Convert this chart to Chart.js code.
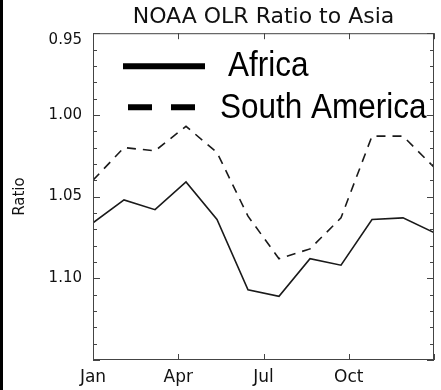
<!DOCTYPE html>
<html>
<head>
<meta charset="utf-8">
<script src="https://cdn.jsdelivr.net/npm/chart.js@4/dist/chart.umd.min.js"></script>
<style>
  html, body { margin: 0; padding: 0; background: #fff; }
  #wrap { width: 441px; height: 390px; position: relative; }
</style>
</head>
<body>
<div id="wrap"><canvas id="chart" width="441" height="390"></canvas></div>
<script>
// Monthly OLR ratio relative to Asia
const monthIndex = [0, 1, 2, 3, 4, 5, 6, 7, 8, 9, 10, 11];
const africa = [1.066, 1.052, 1.058, 1.041, 1.064, 1.107, 1.111, 1.088, 1.092, 1.064, 1.063, 1.072];
const southAmerica = [1.040, 1.020, 1.022, 1.007, 1.023, 1.062, 1.088, 1.082, 1.063, 1.013, 1.013, 1.032];
const monthLabels = ['Jan', 'Apr', 'Jul', 'Oct', ''];
const ratioLabels = ['0.95', '1.00', '1.05', '1.10'];

const toPoints = vals => vals.map((v, i) => ({ x: monthIndex[i], y: v }));

const TICK_FONT = 'DejaVu Sans';

// Frame, inward tick marks and the page's left rule
const framePlugin = {
  id: 'frame',
  beforeDraw(chart) {
    const ctx = chart.ctx;
    ctx.save();
    ctx.fillStyle = '#fff';
    ctx.fillRect(0, 0, chart.width, chart.height);
    ctx.fillStyle = '#000';
    ctx.fillRect(0, 0, 3, chart.height);
    ctx.restore();
  },
  afterDatasetsDraw(chart) {
    const { ctx, chartArea: a, scales: { x, y } } = chart;
    ctx.save();
    ctx.strokeStyle = '#444';
    ctx.lineWidth = 1;
    ctx.strokeRect(a.left + 0.5, a.top + 0.5, a.right - a.left - 1, a.bottom - a.top - 1);
    ctx.beginPath();
    y.ticks.forEach(t => {
      const py = Math.round(y.getPixelForValue(t.value)) + 0.5;
      const major = Math.abs(Math.round(t.value * 20) - t.value * 20) < 1e-6;
      const len = major ? 7 : 4;
      ctx.moveTo(a.left, py); ctx.lineTo(a.left + len, py);
      ctx.moveTo(a.right, py); ctx.lineTo(a.right - len, py);
    });
    x.ticks.forEach(t => {
      const px = Math.round(x.getPixelForValue(t.value)) + 0.5;
      ctx.moveTo(px, a.bottom); ctx.lineTo(px, a.bottom - 6);
      ctx.moveTo(px, a.top); ctx.lineTo(px, a.top + 6);
    });
    ctx.stroke();
    ctx.restore();
  }
};

// Legend drawn inside the plot with heavy sample lines
const legendPlugin = {
  id: 'insideLegend',
  afterDatasetsDraw(chart) {
    const { ctx, chartArea: a } = chart;
    const ds = chart.data.datasets;
    ctx.save();
    ctx.strokeStyle = '#000';
    ctx.lineWidth = 6;
    ctx.lineCap = 'butt';
    // solid sample
    ctx.beginPath();
    ctx.moveTo(a.left + 30, a.top + 33);
    ctx.lineTo(a.left + 112, a.top + 33);
    ctx.stroke();
    // dashed sample
    ctx.setLineDash([24, 19]);
    ctx.beginPath();
    ctx.moveTo(a.left + 35, a.top + 74);
    ctx.lineTo(a.left + 102, a.top + 74);
    ctx.stroke();
    ctx.setLineDash([]);
    ctx.fillStyle = '#000';
    ctx.font = '31.5px "Liberation Sans"';
    ctx.textBaseline = 'alphabetic';
    ctx.textAlign = 'left';
    ctx.save();
    ctx.translate(a.left + 135, a.top + 43);
    ctx.scale(1, 1.1);
    ctx.fillText(ds[0].label, 0, 0);
    ctx.restore();
    ctx.save();
    ctx.translate(a.left + 127, a.top + 85);
    ctx.scale(1, 1.1);
    ctx.fillText(ds[1].label, 0, 0);
    ctx.restore();
    ctx.restore();
  }
};

new Chart(document.getElementById('chart'), {
  type: 'line',
  data: {
    datasets: [
      {
        label: 'Africa',
        data: toPoints(africa),
        borderColor: '#1a1a1a',
        borderWidth: 1.6,
        pointRadius: 0,
        tension: 0,
        fill: false
      },
      {
        label: 'South America',
        data: toPoints(southAmerica),
        borderColor: '#1a1a1a',
        borderWidth: 1.6,
        borderDash: [9, 7],
        pointRadius: 0,
        tension: 0,
        fill: false
      }
    ]
  },
  options: {
    responsive: false,
    animation: false,
    layout: { padding: { left: 0, right: 2, top: 0, bottom: 0 } },
    plugins: {
      legend: { display: false },
      tooltip: { enabled: false },
      title: {
        display: true,
        fullSize: false,
        text: 'NOAA OLR Ratio to Asia',
        color: '#111',
        font: { family: TICK_FONT, size: 22, weight: 'normal', lineHeight: 1.1 },
        padding: { top: 5, bottom: 4 }
      }
    },
    scales: {
      x: {
        type: 'linear',
        min: 0,
        max: 11,
        grid: { display: false, drawTicks: false },
        border: { display: false },
        afterFit(scale) { scale.height = 30; },
        ticks: {
          count: monthLabels.length,
          padding: 7,
          color: '#111',
          font: { family: TICK_FONT, size: 17 },
          maxRotation: 0,
          autoSkip: false,
          callback: (v, i) => monthLabels[i]
        }
      },
      y: {
        type: 'linear',
        reverse: true,
        min: 0.95,
        max: 1.15,
        grid: { display: false, drawTicks: false },
        border: { display: false },
        afterFit(scale) { scale.width = 93; },
        title: {
          display: true,
          text: 'Ratio',
          color: '#111',
          font: { family: TICK_FONT, size: 15 },
          padding: { top: 11, bottom: 0 }
        },
        ticks: {
          stepSize: 0.01,
          padding: 11,
          autoSkip: false,
          color: '#111',
          font: { family: TICK_FONT, size: 15, lineHeight: 0.95 },
          callback: (v, i) => {
            const k = Math.round(v * 100);
            if (k % 5 !== 0) return '';
            const label = ratioLabels[Math.round((k - 95) / 5)];
            if (label === undefined) return '';
            // the top label sits just below its tick
            return k === 95 ? ['', label] : label;
          }
        }
      }
    }
  },
  plugins: [framePlugin, legendPlugin]
});
</script>
</body>
</html>
